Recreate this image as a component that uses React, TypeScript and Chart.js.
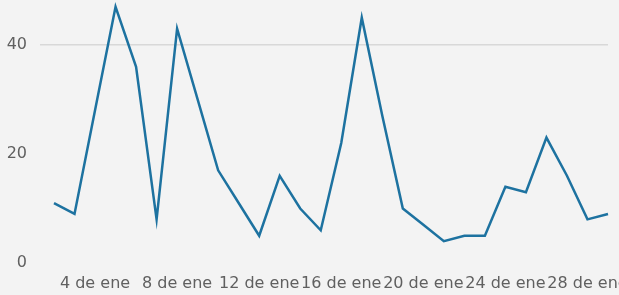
import React, { useEffect, useRef } from "react";
import { Chart, registerables } from "chart.js";

Chart.register(...registerables);

const categories = [
  "2 de ene", "3 de ene", "4 de ene", "5 de ene", "6 de ene", "7 de ene", "8 de ene",
  "9 de ene", "10 de ene", "11 de ene", "12 de ene", "13 de ene", "14 de ene", "15 de ene",
  "16 de ene", "17 de ene", "18 de ene", "19 de ene", "20 de ene", "21 de ene", "22 de ene",
  "23 de ene", "24 de ene", "25 de ene", "26 de ene", "27 de ene", "28 de ene", "29 de ene",
];

const values = [11, 9, 28, 47, 36, 8, 43, 30, 17, 11, 5, 16, 10, 6, 22, 45, 27, 10, 7, 4, 5, 5, 14, 13, 23, 16, 8, 9];

const xTickLabels = ["4 de ene", "8 de ene", "12 de ene", "16 de ene", "20 de ene", "24 de ene", "28 de ene"];
const yTickValues = [0, 20, 40];

export default function App() {
  const ref = useRef<HTMLCanvasElement | null>(null);

  useEffect(() => {
    if (!ref.current) return;
    const font = { family: "'DejaVu Sans', sans-serif", size: 16 };
    const chart = new Chart(ref.current, {
      type: "line",
      data: {
        labels: categories,
        datasets: [
          {
            data: values,
            borderColor: "#1d72a0",
            borderWidth: 2.5,
            pointRadius: 0,
            tension: 0,
            fill: false,
            clip: false,
          },
        ],
      },
      options: {
        animation: false,
        responsive: false,
        layout: { padding: { left: 0, right: 11, top: 0, bottom: 0 } },
        plugins: { legend: { display: false }, tooltip: { enabled: false } },
        scales: {
          x: {
            type: "category",
            grid: { display: false, drawTicks: false },
            border: { display: false },
            ticks: {
              autoSkip: false,
              maxRotation: 0,
              minRotation: 0,
              padding: 11,
              font,
              color: "#606060",
              callback: function (_v: any, idx: number) {
                const l = categories[idx];
                return xTickLabels.includes(l) ? l : "";
              },
            },
            afterFit: (s: any) => {
              s.height = 32;
            },
          },
          y: {
            min: 0,
            max: 44.1,
            grid: {
              drawTicks: true,
              tickLength: 14,
              lineWidth: 1.5,
              color: (ctx: any) => (ctx.tick && ctx.tick.value === 40 ? "#d8d8d8" : "rgba(0,0,0,0)"),
            },
            border: { display: false },
            ticks: {
              stepSize: 20,
              padding: 13,
              font,
              color: "#606060",
            },
            afterBuildTicks: (s: any) => {
              s.ticks = s.ticks.filter((t: any) => yTickValues.includes(t.value));
            },
            afterFit: (s: any) => {
              s.width = 54;
            },
          },
        },
      },
    });
    return () => chart.destroy();
  }, []);

  return (
    <div
      style={{
        position: "absolute",
        left: 0,
        top: 0,
        width: 619,
        height: 295,
        background: "#f3f3f3",
      }}
    >
      <canvas ref={ref} width={619} height={295} style={{ display: "block" }} />
    </div>
  );
}
